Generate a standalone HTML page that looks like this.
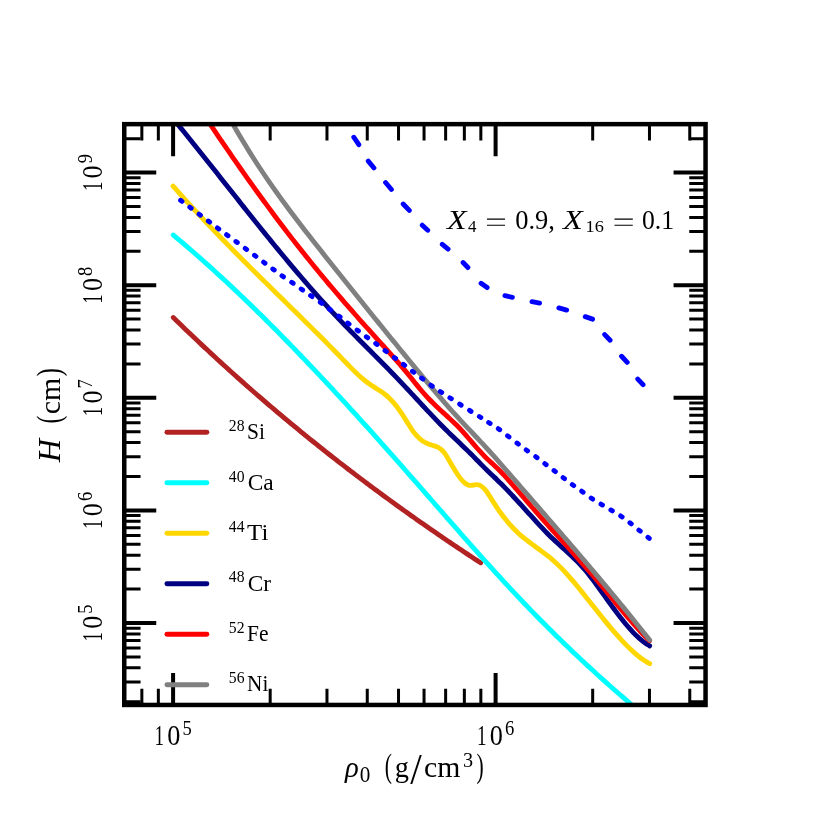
<!DOCTYPE html>
<html><head><meta charset="utf-8"><title>H vs rho0</title>
<style>html,body{margin:0;padding:0;background:#fff;}body{width:830px;height:830px;overflow:hidden;font-family:"Liberation Serif",serif;}svg{display:block;will-change:transform;}text{font-family:"Liberation Serif",serif;fill:#000;}</style></head>
<body>
<svg width="830" height="830" viewBox="0 0 830 830">
<defs><clipPath id="ax"><rect x="124.25" y="124.15" width="581.30" height="580.80"/></clipPath></defs>
<rect width="830" height="830" fill="#fff"/>
<g stroke="#000" fill="none" stroke-linecap="butt">
<path stroke-width="4.0" d="M173.10,124.15 v32.00 M173.10,704.95 v-32.00"/>
<path stroke-width="4.0" d="M495.60,124.15 v32.00 M495.60,704.95 v-32.00"/>
<path stroke-width="3.0" d="M141.85,124.15 v16.30 M141.85,704.95 v-16.30 M158.34,124.15 v16.30 M158.34,704.95 v-16.30 M270.18,124.15 v16.30 M270.18,704.95 v-16.30 M326.97,124.15 v16.30 M326.97,704.95 v-16.30 M367.26,124.15 v16.30 M367.26,704.95 v-16.30 M398.52,124.15 v16.30 M398.52,704.95 v-16.30 M424.05,124.15 v16.30 M424.05,704.95 v-16.30 M445.64,124.15 v16.30 M445.64,704.95 v-16.30 M464.35,124.15 v16.30 M464.35,704.95 v-16.30 M480.84,124.15 v16.30 M480.84,704.95 v-16.30 M592.68,124.15 v16.30 M592.68,704.95 v-16.30 M649.47,124.15 v16.30 M649.47,704.95 v-16.30 M689.76,124.15 v16.30 M689.76,704.95 v-16.30 "/>
<path stroke-width="4.0" d="M124.25,623.00 h32.00 M705.55,623.00 h-32.00"/>
<path stroke-width="4.0" d="M124.25,510.40 h32.00 M705.55,510.40 h-32.00"/>
<path stroke-width="4.0" d="M124.25,397.80 h32.00 M705.55,397.80 h-32.00"/>
<path stroke-width="4.0" d="M124.25,285.20 h32.00 M705.55,285.20 h-32.00"/>
<path stroke-width="4.0" d="M124.25,172.60 h32.00 M705.55,172.60 h-32.00"/>
<path stroke-width="3.0" d="M124.25,701.70 h16.30 M705.55,701.70 h-16.30 M124.25,681.88 h16.30 M705.55,681.88 h-16.30 M124.25,667.81 h16.30 M705.55,667.81 h-16.30 M124.25,656.90 h16.30 M705.55,656.90 h-16.30 M124.25,647.98 h16.30 M705.55,647.98 h-16.30 M124.25,640.44 h16.30 M705.55,640.44 h-16.30 M124.25,633.91 h16.30 M705.55,633.91 h-16.30 M124.25,628.15 h16.30 M705.55,628.15 h-16.30 M124.25,589.10 h16.30 M705.55,589.10 h-16.30 M124.25,569.28 h16.30 M705.55,569.28 h-16.30 M124.25,555.21 h16.30 M705.55,555.21 h-16.30 M124.25,544.30 h16.30 M705.55,544.30 h-16.30 M124.25,535.38 h16.30 M705.55,535.38 h-16.30 M124.25,527.84 h16.30 M705.55,527.84 h-16.30 M124.25,521.31 h16.30 M705.55,521.31 h-16.30 M124.25,515.55 h16.30 M705.55,515.55 h-16.30 M124.25,476.50 h16.30 M705.55,476.50 h-16.30 M124.25,456.68 h16.30 M705.55,456.68 h-16.30 M124.25,442.61 h16.30 M705.55,442.61 h-16.30 M124.25,431.70 h16.30 M705.55,431.70 h-16.30 M124.25,422.78 h16.30 M705.55,422.78 h-16.30 M124.25,415.24 h16.30 M705.55,415.24 h-16.30 M124.25,408.71 h16.30 M705.55,408.71 h-16.30 M124.25,402.95 h16.30 M705.55,402.95 h-16.30 M124.25,363.90 h16.30 M705.55,363.90 h-16.30 M124.25,344.08 h16.30 M705.55,344.08 h-16.30 M124.25,330.01 h16.30 M705.55,330.01 h-16.30 M124.25,319.10 h16.30 M705.55,319.10 h-16.30 M124.25,310.18 h16.30 M705.55,310.18 h-16.30 M124.25,302.64 h16.30 M705.55,302.64 h-16.30 M124.25,296.11 h16.30 M705.55,296.11 h-16.30 M124.25,290.35 h16.30 M705.55,290.35 h-16.30 M124.25,251.30 h16.30 M705.55,251.30 h-16.30 M124.25,231.48 h16.30 M705.55,231.48 h-16.30 M124.25,217.41 h16.30 M705.55,217.41 h-16.30 M124.25,206.50 h16.30 M705.55,206.50 h-16.30 M124.25,197.58 h16.30 M705.55,197.58 h-16.30 M124.25,190.04 h16.30 M705.55,190.04 h-16.30 M124.25,183.51 h16.30 M705.55,183.51 h-16.30 M124.25,177.75 h16.30 M705.55,177.75 h-16.30 M124.25,138.70 h16.30 M705.55,138.70 h-16.30 "/>
</g>
<g clip-path="url(#ax)" fill="none" stroke-width="4.86" stroke-linecap="round" stroke-linejoin="round">
<path stroke="#b22222" d="M173.30,317.52 C173.97,318.17 175.97,320.12 177.30,321.42 C178.63,322.72 179.97,324.01 181.30,325.30 C182.63,326.59 183.97,327.87 185.30,329.16 C186.63,330.44 187.97,331.72 189.30,332.99 C190.63,334.27 191.97,335.54 193.30,336.80 C194.63,338.07 195.97,339.34 197.30,340.60 C198.63,341.86 199.97,343.11 201.30,344.37 C202.63,345.62 203.97,346.87 205.30,348.11 C206.63,349.36 207.97,350.60 209.30,351.84 C210.63,353.08 211.97,354.32 213.30,355.55 C214.63,356.78 215.97,358.01 217.30,359.23 C218.63,360.46 219.97,361.68 221.30,362.90 C222.63,364.11 223.97,365.33 225.30,366.54 C226.63,367.75 227.97,368.96 229.30,370.16 C230.63,371.37 231.97,372.57 233.30,373.77 C234.63,374.96 235.97,376.16 237.30,377.35 C238.63,378.54 239.97,379.72 241.30,380.91 C242.63,382.09 243.97,383.27 245.30,384.45 C246.63,385.63 247.97,386.80 249.30,387.97 C250.63,389.14 251.97,390.31 253.30,391.48 C254.63,392.64 255.97,393.80 257.30,394.96 C258.63,396.12 259.97,397.27 261.30,398.42 C262.63,399.57 263.97,400.72 265.30,401.87 C266.63,403.01 267.97,404.15 269.30,405.29 C270.63,406.43 271.97,407.56 273.30,408.70 C274.63,409.83 275.97,410.96 277.30,412.08 C278.63,413.21 279.97,414.33 281.30,415.45 C282.63,416.57 283.97,417.69 285.30,418.80 C286.63,419.91 287.97,421.03 289.30,422.13 C290.63,423.24 291.97,424.34 293.30,425.45 C294.63,426.55 295.97,427.65 297.30,428.74 C298.63,429.84 299.97,430.93 301.30,432.02 C302.63,433.11 303.97,434.19 305.30,435.28 C306.63,436.36 307.97,437.44 309.30,438.52 C310.63,439.60 311.97,440.67 313.30,441.74 C314.63,442.82 315.97,443.88 317.30,444.95 C318.63,446.02 319.97,447.08 321.30,448.14 C322.63,449.20 323.97,450.26 325.30,451.31 C326.63,452.37 327.97,453.42 329.30,454.47 C330.63,455.52 331.97,456.56 333.30,457.61 C334.63,458.65 335.97,459.69 337.30,460.73 C338.63,461.77 339.97,462.80 341.30,463.83 C342.63,464.87 343.97,465.90 345.30,466.92 C346.63,467.95 347.97,468.97 349.30,470.00 C350.63,471.02 351.97,472.04 353.30,473.05 C354.63,474.07 355.97,475.08 357.30,476.09 C358.63,477.10 359.97,478.11 361.30,479.12 C362.63,480.12 363.97,481.13 365.30,482.13 C366.63,483.13 367.97,484.13 369.30,485.12 C370.63,486.12 371.97,487.11 373.30,488.10 C374.63,489.09 375.97,490.08 377.30,491.06 C378.63,492.05 379.97,493.03 381.30,494.01 C382.63,494.99 383.97,495.97 385.30,496.95 C386.63,497.92 387.97,498.89 389.30,499.86 C390.63,500.84 391.97,501.80 393.30,502.77 C394.63,503.73 395.97,504.70 397.30,505.66 C398.63,506.62 399.97,507.58 401.30,508.53 C402.63,509.49 403.97,510.44 405.30,511.39 C406.63,512.35 407.97,513.30 409.30,514.24 C410.63,515.19 411.97,516.13 413.30,517.08 C414.63,518.02 415.97,518.96 417.30,519.89 C418.63,520.83 419.97,521.77 421.30,522.70 C422.63,523.63 423.97,524.56 425.30,525.49 C426.63,526.42 427.97,527.35 429.30,528.27 C430.63,529.20 431.97,530.12 433.30,531.04 C434.63,531.96 435.97,532.88 437.30,533.79 C438.63,534.71 439.97,535.62 441.30,536.53 C442.63,537.44 443.97,538.35 445.30,539.26 C446.63,540.17 447.97,541.07 449.30,541.97 C450.63,542.88 451.97,543.78 453.30,544.68 C454.63,545.58 455.97,546.47 457.30,547.37 C458.63,548.26 459.97,549.15 461.30,550.04 C462.63,550.94 463.97,551.82 465.30,552.71 C466.63,553.60 467.97,554.48 469.30,555.36 C470.63,556.25 471.97,557.13 473.30,558.01 C474.63,558.89 476.08,559.84 477.30,560.64 C478.52,561.44 480.05,562.44 480.60,562.80"/>
<path stroke="#00ffff" d="M173.20,234.98 C173.87,235.54 175.87,237.20 177.20,238.32 C178.53,239.44 179.87,240.56 181.20,241.69 C182.53,242.82 183.87,243.95 185.20,245.09 C186.53,246.23 187.87,247.38 189.20,248.53 C190.53,249.68 191.87,250.84 193.20,252.00 C194.53,253.16 195.87,254.32 197.20,255.50 C198.53,256.67 199.87,257.84 201.20,259.02 C202.53,260.21 203.87,261.39 205.20,262.58 C206.53,263.77 207.87,264.97 209.20,266.17 C210.53,267.37 211.87,268.58 213.20,269.79 C214.53,271.00 215.87,272.22 217.20,273.44 C218.53,274.66 219.87,275.88 221.20,277.11 C222.53,278.34 223.87,279.58 225.20,280.82 C226.53,282.06 227.87,283.30 229.20,284.55 C230.53,285.80 231.87,287.05 233.20,288.31 C234.53,289.56 235.87,290.82 237.20,292.09 C238.53,293.36 239.87,294.63 241.20,295.90 C242.53,297.18 243.87,298.46 245.20,299.74 C246.53,301.02 247.87,302.31 249.20,303.60 C250.53,304.90 251.87,306.19 253.20,307.49 C254.53,308.79 255.87,310.10 257.20,311.41 C258.53,312.72 259.87,314.03 261.20,315.35 C262.53,316.66 263.87,317.98 265.20,319.31 C266.53,320.63 267.87,321.96 269.20,323.29 C270.53,324.63 271.87,325.96 273.20,327.30 C274.53,328.64 275.87,329.99 277.20,331.33 C278.53,332.68 279.87,334.03 281.20,335.39 C282.53,336.74 283.87,338.10 285.20,339.47 C286.53,340.83 287.87,342.19 289.20,343.56 C290.53,344.93 291.87,346.31 293.20,347.68 C294.53,349.06 295.87,350.44 297.20,351.82 C298.53,353.21 299.87,354.59 301.20,355.98 C302.53,357.37 303.87,358.77 305.20,360.16 C306.53,361.56 307.87,362.96 309.20,364.36 C310.53,365.77 311.87,367.17 313.20,368.58 C314.53,369.99 315.87,371.41 317.20,372.82 C318.53,374.24 319.87,375.66 321.20,377.08 C322.53,378.50 323.87,379.92 325.20,381.35 C326.53,382.78 327.87,384.21 329.20,385.64 C330.53,387.08 331.87,388.51 333.20,389.95 C334.53,391.39 335.87,392.83 337.20,394.28 C338.53,395.72 339.87,397.17 341.20,398.62 C342.53,400.07 343.87,401.52 345.20,402.98 C346.53,404.43 347.87,405.89 349.20,407.35 C350.53,408.81 351.87,410.28 353.20,411.74 C354.53,413.21 355.87,414.68 357.20,416.15 C358.53,417.62 359.87,419.09 361.20,420.56 C362.53,422.04 363.87,423.52 365.20,425.00 C366.53,426.47 367.87,427.96 369.20,429.44 C370.53,430.92 371.87,432.41 373.20,433.90 C374.53,435.39 375.87,436.88 377.20,438.37 C378.53,439.86 379.87,441.36 381.20,442.85 C382.53,444.35 383.87,445.85 385.20,447.35 C386.53,448.85 387.87,450.35 389.20,451.86 C390.53,453.36 391.87,454.87 393.20,456.37 C394.53,457.88 395.87,459.39 397.20,460.90 C398.53,462.41 399.87,463.93 401.20,465.44 C402.53,466.96 403.87,468.47 405.20,469.99 C406.53,471.51 407.87,473.03 409.20,474.55 C410.53,476.07 411.87,477.59 413.20,479.11 C414.53,480.64 415.87,482.16 417.20,483.69 C418.53,485.21 419.87,486.74 421.20,488.27 C422.53,489.79 423.87,491.32 425.20,492.85 C426.53,494.38 427.87,495.91 429.20,497.43 C430.53,498.96 431.87,500.49 433.20,502.02 C434.53,503.55 435.87,505.08 437.20,506.61 C438.53,508.13 439.87,509.66 441.20,511.19 C442.53,512.72 443.87,514.24 445.20,515.77 C446.53,517.30 447.87,518.82 449.20,520.35 C450.53,521.87 451.87,523.39 453.20,524.91 C454.53,526.43 455.87,527.96 457.20,529.47 C458.53,530.99 459.87,532.51 461.20,534.02 C462.53,535.54 463.87,537.05 465.20,538.56 C466.53,540.08 467.87,541.58 469.20,543.09 C470.53,544.60 471.87,546.10 473.20,547.60 C474.53,549.11 475.87,550.60 477.20,552.10 C478.53,553.60 479.87,555.09 481.20,556.58 C482.53,558.07 483.87,559.56 485.20,561.04 C486.53,562.53 487.87,564.01 489.20,565.48 C490.53,566.96 491.87,568.43 493.20,569.90 C494.53,571.37 495.87,572.84 497.20,574.30 C498.53,575.76 499.87,577.22 501.20,578.67 C502.53,580.12 503.87,581.57 505.20,583.02 C506.53,584.46 507.87,585.90 509.20,587.33 C510.53,588.77 511.87,590.20 513.20,591.62 C514.53,593.05 515.87,594.47 517.20,595.88 C518.53,597.29 519.87,598.70 521.20,600.11 C522.53,601.51 523.87,602.91 525.20,604.30 C526.53,605.69 527.87,607.08 529.20,608.46 C530.53,609.84 531.87,611.22 533.20,612.59 C534.53,613.96 535.87,615.32 537.20,616.68 C538.53,618.05 539.87,619.40 541.20,620.75 C542.53,622.10 543.87,623.44 545.20,624.78 C546.53,626.12 547.87,627.46 549.20,628.79 C550.53,630.11 551.87,631.44 553.20,632.76 C554.53,634.08 555.87,635.39 557.20,636.70 C558.53,638.01 559.87,639.31 561.20,640.61 C562.53,641.91 563.87,643.20 565.20,644.49 C566.53,645.78 567.87,647.06 569.20,648.34 C570.53,649.61 571.87,650.89 573.20,652.16 C574.53,653.42 575.87,654.69 577.20,655.95 C578.53,657.20 579.87,658.46 581.20,659.71 C582.53,660.95 583.87,662.20 585.20,663.44 C586.53,664.68 587.87,665.91 589.20,667.14 C590.53,668.37 591.87,669.59 593.20,670.81 C594.53,672.03 595.87,673.25 597.20,674.46 C598.53,675.67 599.87,676.87 601.20,678.08 C602.53,679.28 603.87,680.47 605.20,681.66 C606.53,682.86 607.87,684.04 609.20,685.22 C610.53,686.41 611.87,687.58 613.20,688.76 C614.53,689.93 615.87,691.10 617.20,692.26 C618.53,693.43 619.87,694.59 621.20,695.74 C622.53,696.90 623.87,698.05 625.20,699.19 C626.53,700.34 627.87,701.48 629.20,702.62 C630.53,703.76 631.87,704.89 633.20,706.02 C634.53,707.15 635.87,708.27 637.20,709.39 C638.53,710.51 639.87,711.62 641.20,712.74 C642.53,713.85 643.87,714.95 645.20,716.06 C646.53,717.16 648.40,718.69 649.20,719.35 C650.00,720.01 649.87,719.90 650.00,720.01"/>
<path stroke="#ffd700" d="M173.10,186.09 C173.77,186.84 175.77,189.12 177.10,190.62 C178.43,192.12 179.77,193.62 181.10,195.11 C182.43,196.60 183.77,198.08 185.10,199.56 C186.43,201.03 187.77,202.50 189.10,203.97 C190.43,205.43 191.77,206.88 193.10,208.33 C194.43,209.78 195.77,211.23 197.10,212.66 C198.43,214.10 199.77,215.53 201.10,216.96 C202.43,218.38 203.77,219.80 205.10,221.21 C206.43,222.63 207.77,224.04 209.10,225.44 C210.43,226.84 211.77,228.24 213.10,229.63 C214.43,231.03 215.77,232.42 217.10,233.80 C218.43,235.18 219.77,236.56 221.10,237.94 C222.43,239.31 223.77,240.68 225.10,242.05 C226.43,243.42 227.77,244.78 229.10,246.14 C230.43,247.50 231.77,248.85 233.10,250.20 C234.43,251.55 235.77,252.90 237.10,254.25 C238.43,255.59 239.77,256.93 241.10,258.27 C242.43,259.61 243.77,260.94 245.10,262.28 C246.43,263.61 247.77,264.94 249.10,266.27 C250.43,267.60 251.77,268.92 253.10,270.25 C254.43,271.57 255.77,272.89 257.10,274.21 C258.43,275.53 259.77,276.85 261.10,278.16 C262.43,279.48 263.77,280.80 265.10,282.11 C266.43,283.42 267.77,284.74 269.10,286.05 C270.43,287.36 271.77,288.67 273.10,289.98 C274.43,291.29 275.77,292.60 277.10,293.91 C278.43,295.22 279.77,296.52 281.10,297.83 C282.43,299.14 283.77,300.45 285.10,301.76 C286.43,303.07 287.77,304.37 289.10,305.68 C290.43,306.99 291.77,308.30 293.10,309.61 C294.43,310.92 295.77,312.23 297.10,313.54 C298.43,314.86 299.77,316.17 301.10,317.48 C302.43,318.80 303.77,320.11 305.10,321.43 C306.43,322.75 307.77,324.07 309.10,325.39 C310.43,326.71 311.77,328.03 313.10,329.36 C314.43,330.68 315.77,332.01 317.10,333.34 C318.43,334.67 319.77,336.00 321.10,337.33 C322.43,338.67 323.77,340.00 325.10,341.34 C326.43,342.68 327.77,344.03 329.10,345.37 C330.43,346.72 331.77,348.07 333.10,349.42 C334.43,350.78 335.77,352.13 337.10,353.49 C338.43,354.85 339.77,356.22 341.10,357.59 C342.43,358.96 343.77,360.33 345.10,361.71 C346.43,363.08 347.77,364.47 349.10,365.83 C350.43,367.19 351.77,368.56 353.10,369.88 C354.43,371.21 355.77,372.52 357.10,373.77 C358.43,375.03 359.77,376.26 361.10,377.42 C362.43,378.58 363.77,379.69 365.10,380.73 C366.43,381.78 367.77,382.75 369.10,383.69 C370.43,384.64 371.77,385.52 373.10,386.40 C374.43,387.27 375.77,388.10 377.10,388.96 C378.43,389.83 379.77,390.66 381.10,391.59 C382.43,392.51 383.77,393.44 385.10,394.49 C386.43,395.54 387.77,396.64 389.10,397.90 C390.43,399.16 391.77,400.52 393.10,402.04 C394.43,403.56 395.77,405.25 397.10,407.03 C398.43,408.81 399.77,410.74 401.10,412.71 C402.43,414.69 403.77,416.77 405.10,418.86 C406.43,420.95 407.77,423.16 409.10,425.24 C410.43,427.32 411.77,429.53 413.10,431.35 C414.43,433.18 415.77,434.78 417.10,436.20 C418.43,437.61 419.77,438.79 421.10,439.84 C422.43,440.88 423.77,441.72 425.10,442.46 C426.43,443.19 427.77,443.75 429.10,444.26 C430.43,444.77 431.77,445.06 433.10,445.50 C434.43,445.94 435.77,446.24 437.10,446.89 C438.43,447.53 439.77,448.20 441.10,449.36 C442.43,450.52 443.77,452.01 445.10,453.86 C446.43,455.70 447.77,458.20 449.10,460.45 C450.43,462.69 451.77,465.13 453.10,467.35 C454.43,469.57 455.77,471.79 457.10,473.77 C458.43,475.74 459.77,477.64 461.10,479.21 C462.43,480.79 463.77,482.20 465.10,483.21 C466.43,484.22 467.77,484.94 469.10,485.27 C470.43,485.59 471.77,485.25 473.10,485.15 C474.43,485.04 475.77,484.48 477.10,484.61 C478.43,484.75 479.77,485.12 481.10,485.95 C482.43,486.78 483.77,488.02 485.10,489.57 C486.43,491.12 487.77,493.22 489.10,495.24 C490.43,497.25 491.77,499.58 493.10,501.67 C494.43,503.77 495.77,505.83 497.10,507.80 C498.43,509.78 499.77,511.68 501.10,513.52 C502.43,515.35 503.77,517.11 505.10,518.80 C506.43,520.49 507.77,522.10 509.10,523.63 C510.43,525.17 511.77,526.62 513.10,528.01 C514.43,529.39 515.77,530.70 517.10,531.96 C518.43,533.22 519.77,534.41 521.10,535.57 C522.43,536.72 523.77,537.82 525.10,538.90 C526.43,539.97 527.77,541.00 529.10,542.02 C530.43,543.04 531.77,544.02 533.10,545.00 C534.43,545.99 535.77,546.95 537.10,547.92 C538.43,548.89 539.77,549.85 541.10,550.84 C542.43,551.82 543.77,552.81 545.10,553.83 C546.43,554.85 547.77,555.88 549.10,556.96 C550.43,558.03 551.77,559.14 553.10,560.30 C554.43,561.46 555.77,562.66 557.10,563.92 C558.43,565.18 559.77,566.50 561.10,567.85 C562.43,569.21 563.77,570.62 565.10,572.07 C566.43,573.51 567.77,575.01 569.10,576.52 C570.43,578.04 571.77,579.60 573.10,581.18 C574.43,582.75 575.77,584.36 577.10,585.98 C578.43,587.60 579.77,589.25 581.10,590.90 C582.43,592.55 583.77,594.22 585.10,595.90 C586.43,597.57 587.77,599.26 589.10,600.94 C590.43,602.62 591.77,604.32 593.10,606.00 C594.43,607.69 595.77,609.38 597.10,611.06 C598.43,612.74 599.77,614.41 601.10,616.07 C602.43,617.74 603.77,619.39 605.10,621.03 C606.43,622.66 607.77,624.29 609.10,625.89 C610.43,627.49 611.77,629.08 613.10,630.63 C614.43,632.19 615.77,633.73 617.10,635.23 C618.43,636.73 619.77,638.21 621.10,639.65 C622.43,641.09 623.77,642.51 625.10,643.87 C626.43,645.24 627.77,646.58 629.10,647.87 C630.43,649.15 631.77,650.40 633.10,651.60 C634.43,652.80 635.77,653.95 637.10,655.05 C638.43,656.14 639.77,657.19 641.10,658.18 C642.43,659.17 643.68,660.06 645.10,660.98 C646.52,661.89 648.85,663.23 649.60,663.68"/>
<path stroke="#000080" d="M173.10,118.56 C173.77,119.37 175.77,121.81 177.10,123.44 C178.43,125.08 179.77,126.71 181.10,128.35 C182.43,130.00 183.77,131.64 185.10,133.29 C186.43,134.94 187.77,136.59 189.10,138.24 C190.43,139.90 191.77,141.56 193.10,143.22 C194.43,144.88 195.77,146.54 197.10,148.21 C198.43,149.88 199.77,151.55 201.10,153.22 C202.43,154.89 203.77,156.56 205.10,158.24 C206.43,159.91 207.77,161.59 209.10,163.27 C210.43,164.95 211.77,166.63 213.10,168.31 C214.43,169.99 215.77,171.67 217.10,173.35 C218.43,175.04 219.77,176.72 221.10,178.40 C222.43,180.09 223.77,181.77 225.10,183.46 C226.43,185.14 227.77,186.83 229.10,188.51 C230.43,190.19 231.77,191.88 233.10,193.56 C234.43,195.24 235.77,196.92 237.10,198.61 C238.43,200.29 239.77,201.97 241.10,203.65 C242.43,205.32 243.77,207.00 245.10,208.68 C246.43,210.35 247.77,212.03 249.10,213.70 C250.43,215.37 251.77,217.04 253.10,218.71 C254.43,220.37 255.77,222.04 257.10,223.70 C258.43,225.36 259.77,227.02 261.10,228.67 C262.43,230.33 263.77,231.98 265.10,233.63 C266.43,235.28 267.77,236.93 269.10,238.57 C270.43,240.21 271.77,241.85 273.10,243.48 C274.43,245.11 275.77,246.74 277.10,248.37 C278.43,249.99 279.77,251.61 281.10,253.22 C282.43,254.84 283.77,256.45 285.10,258.05 C286.43,259.66 287.77,261.26 289.10,262.85 C290.43,264.44 291.77,266.03 293.10,267.61 C294.43,269.19 295.77,270.77 297.10,272.34 C298.43,273.91 299.77,275.47 301.10,277.03 C302.43,278.58 303.77,280.13 305.10,281.67 C306.43,283.22 307.77,284.75 309.10,286.28 C310.43,287.81 311.77,289.33 313.10,290.84 C314.43,292.35 315.77,293.85 317.10,295.35 C318.43,296.85 319.77,298.34 321.10,299.81 C322.43,301.29 323.77,302.77 325.10,304.23 C326.43,305.69 327.77,307.14 329.10,308.59 C330.43,310.03 331.77,311.46 333.10,312.89 C334.43,314.31 335.77,315.73 337.10,317.14 C338.43,318.54 339.77,319.94 341.10,321.33 C342.43,322.72 343.77,324.10 345.10,325.48 C346.43,326.85 347.77,328.22 349.10,329.58 C350.43,330.94 351.77,332.30 353.10,333.65 C354.43,335.01 355.77,336.35 357.10,337.70 C358.43,339.05 359.77,340.39 361.10,341.73 C362.43,343.07 363.77,344.40 365.10,345.74 C366.43,347.07 367.77,348.41 369.10,349.74 C370.43,351.08 371.77,352.41 373.10,353.75 C374.43,355.09 375.77,356.42 377.10,357.76 C378.43,359.10 379.77,360.44 381.10,361.79 C382.43,363.13 383.77,364.48 385.10,365.83 C386.43,367.18 387.77,368.54 389.10,369.90 C390.43,371.27 391.77,372.63 393.10,374.01 C394.43,375.38 395.77,376.76 397.10,378.15 C398.43,379.54 399.77,380.94 401.10,382.34 C402.43,383.75 403.77,385.16 405.10,386.59 C406.43,388.01 407.77,389.44 409.10,390.87 C410.43,392.30 411.77,393.74 413.10,395.18 C414.43,396.62 415.77,398.07 417.10,399.51 C418.43,400.95 419.77,402.39 421.10,403.83 C422.43,405.27 423.77,406.71 425.10,408.14 C426.43,409.57 427.77,411.00 429.10,412.42 C430.43,413.84 431.77,415.26 433.10,416.66 C434.43,418.06 435.77,419.46 437.10,420.84 C438.43,422.22 439.77,423.59 441.10,424.94 C442.43,426.30 443.77,427.64 445.10,428.96 C446.43,430.29 447.77,431.59 449.10,432.89 C450.43,434.19 451.77,435.47 453.10,436.76 C454.43,438.04 455.77,439.31 457.10,440.59 C458.43,441.86 459.77,443.13 461.10,444.41 C462.43,445.69 463.77,446.97 465.10,448.26 C466.43,449.55 467.77,450.85 469.10,452.16 C470.43,453.48 471.77,454.80 473.10,456.15 C474.43,457.49 475.77,458.86 477.10,460.23 C478.43,461.59 479.77,462.98 481.10,464.33 C482.43,465.68 483.77,467.03 485.10,468.35 C486.43,469.67 487.77,470.96 489.10,472.24 C490.43,473.52 491.77,474.78 493.10,476.06 C494.43,477.33 495.77,478.59 497.10,479.89 C498.43,481.18 499.77,482.48 501.10,483.81 C502.43,485.13 503.77,486.48 505.10,487.85 C506.43,489.22 507.77,490.60 509.10,492.00 C510.43,493.40 511.77,494.81 513.10,496.24 C514.43,497.66 515.77,499.10 517.10,500.55 C518.43,502.00 519.77,503.46 521.10,504.92 C522.43,506.39 523.77,507.86 525.10,509.33 C526.43,510.81 527.77,512.29 529.10,513.76 C530.43,515.24 531.77,516.72 533.10,518.19 C534.43,519.65 535.77,521.12 537.10,522.57 C538.43,524.02 539.77,525.46 541.10,526.88 C542.43,528.30 543.77,529.71 545.10,531.09 C546.43,532.47 547.77,533.83 549.10,535.17 C550.43,536.50 551.77,537.81 553.10,539.08 C554.43,540.36 555.77,541.59 557.10,542.82 C558.43,544.04 559.77,545.23 561.10,546.43 C562.43,547.63 563.77,548.82 565.10,550.02 C566.43,551.22 567.77,552.42 569.10,553.65 C570.43,554.88 571.77,556.13 573.10,557.41 C574.43,558.70 575.77,560.00 577.10,561.36 C578.43,562.71 579.77,564.10 581.10,565.55 C582.43,566.99 583.77,568.48 585.10,570.03 C586.43,571.59 587.77,573.20 589.10,574.87 C590.43,576.55 591.77,578.30 593.10,580.08 C594.43,581.86 595.77,583.69 597.10,585.53 C598.43,587.36 599.77,589.23 601.10,591.08 C602.43,592.94 603.77,594.81 605.10,596.67 C606.43,598.53 607.77,600.39 609.10,602.23 C610.43,604.07 611.77,605.91 613.10,607.72 C614.43,609.53 615.77,611.33 617.10,613.09 C618.43,614.85 619.77,616.59 621.10,618.28 C622.43,619.98 623.77,621.64 625.10,623.25 C626.43,624.86 627.77,626.44 629.10,627.95 C630.43,629.46 631.77,630.93 633.10,632.32 C634.43,633.72 635.77,635.06 637.10,636.32 C638.43,637.59 639.77,638.79 641.10,639.90 C642.43,641.01 643.68,642.01 645.10,643.00 C646.52,643.99 648.85,645.38 649.60,645.86"/>
<path stroke="#ff0000" d="M200.50,109.70 C201.17,110.70 203.17,113.73 204.50,115.73 C205.83,117.74 207.17,119.74 208.50,121.73 C209.83,123.73 211.17,125.72 212.50,127.70 C213.83,129.69 215.17,131.67 216.50,133.64 C217.83,135.61 219.17,137.58 220.50,139.54 C221.83,141.50 223.17,143.46 224.50,145.41 C225.83,147.36 227.17,149.30 228.50,151.24 C229.83,153.17 231.17,155.11 232.50,157.03 C233.83,158.96 235.17,160.87 236.50,162.79 C237.83,164.70 239.17,166.61 240.50,168.51 C241.83,170.41 243.17,172.30 244.50,174.19 C245.83,176.07 247.17,177.96 248.50,179.83 C249.83,181.70 251.17,183.57 252.50,185.43 C253.83,187.29 255.17,189.15 256.50,190.99 C257.83,192.84 259.17,194.68 260.50,196.51 C261.83,198.35 263.17,200.17 264.50,201.99 C265.83,203.81 267.17,205.63 268.50,207.43 C269.83,209.24 271.17,211.03 272.50,212.82 C273.83,214.61 275.17,216.40 276.50,218.17 C277.83,219.95 279.17,221.72 280.50,223.48 C281.83,225.24 283.17,226.99 284.50,228.74 C285.83,230.49 287.17,232.22 288.50,233.96 C289.83,235.69 291.17,237.41 292.50,239.12 C293.83,240.84 295.17,242.55 296.50,244.25 C297.83,245.95 299.17,247.64 300.50,249.32 C301.83,251.00 303.17,252.68 304.50,254.35 C305.83,256.01 307.17,257.67 308.50,259.32 C309.83,260.98 311.17,262.62 312.50,264.26 C313.83,265.89 315.17,267.52 316.50,269.15 C317.83,270.77 319.17,272.39 320.50,273.99 C321.83,275.60 323.17,277.21 324.50,278.80 C325.83,280.40 327.17,281.99 328.50,283.57 C329.83,285.15 331.17,286.73 332.50,288.30 C333.83,289.87 335.17,291.44 336.50,293.00 C337.83,294.56 339.17,296.11 340.50,297.66 C341.83,299.21 343.17,300.75 344.50,302.29 C345.83,303.83 347.17,305.36 348.50,306.89 C349.83,308.42 351.17,309.94 352.50,311.46 C353.83,312.98 355.17,314.49 356.50,316.01 C357.83,317.52 359.17,319.02 360.50,320.52 C361.83,322.03 363.17,323.52 364.50,325.02 C365.83,326.51 367.17,328.00 368.50,329.49 C369.83,330.98 371.17,332.46 372.50,333.94 C373.83,335.42 375.17,336.90 376.50,338.38 C377.83,339.85 379.17,341.32 380.50,342.79 C381.83,344.26 383.17,345.73 384.50,347.20 C385.83,348.67 387.17,350.14 388.50,351.61 C389.83,353.09 391.17,354.57 392.50,356.07 C393.83,357.56 395.17,359.06 396.50,360.57 C397.83,362.09 399.17,363.62 400.50,365.16 C401.83,366.71 403.17,368.27 404.50,369.86 C405.83,371.44 407.17,373.05 408.50,374.68 C409.83,376.31 411.17,377.98 412.50,379.64 C413.83,381.29 415.17,382.98 416.50,384.62 C417.83,386.27 419.17,387.92 420.50,389.51 C421.83,391.10 423.17,392.66 424.50,394.15 C425.83,395.65 427.17,397.09 428.50,398.49 C429.83,399.89 431.17,401.24 432.50,402.56 C433.83,403.89 435.17,405.17 436.50,406.43 C437.83,407.70 439.17,408.94 440.50,410.17 C441.83,411.40 443.17,412.60 444.50,413.81 C445.83,415.03 447.17,416.22 448.50,417.45 C449.83,418.67 451.17,419.89 452.50,421.16 C453.83,422.42 455.17,423.70 456.50,425.04 C457.83,426.38 459.17,427.76 460.50,429.19 C461.83,430.61 463.17,432.11 464.50,433.61 C465.83,435.11 467.17,436.66 468.50,438.21 C469.83,439.75 471.17,441.33 472.50,442.87 C473.83,444.42 475.17,445.98 476.50,447.50 C477.83,449.01 479.17,450.52 480.50,451.96 C481.83,453.41 483.17,454.82 484.50,456.17 C485.83,457.52 487.17,458.79 488.50,460.06 C489.83,461.33 491.17,462.53 492.50,463.77 C493.83,465.01 495.17,466.22 496.50,467.50 C497.83,468.78 499.17,470.08 500.50,471.44 C501.83,472.80 503.17,474.22 504.50,475.66 C505.83,477.10 507.17,478.59 508.50,480.09 C509.83,481.59 511.17,483.12 512.50,484.65 C513.83,486.18 515.17,487.72 516.50,489.26 C517.83,490.80 519.17,492.34 520.50,493.89 C521.83,495.43 523.17,496.98 524.50,498.52 C525.83,500.06 527.17,501.61 528.50,503.15 C529.83,504.69 531.17,506.23 532.50,507.76 C533.83,509.29 535.17,510.82 536.50,512.34 C537.83,513.86 539.17,515.38 540.50,516.88 C541.83,518.39 543.17,519.89 544.50,521.38 C545.83,522.88 547.17,524.36 548.50,525.85 C549.83,527.33 551.17,528.81 552.50,530.28 C553.83,531.76 555.17,533.23 556.50,534.70 C557.83,536.17 559.17,537.64 560.50,539.11 C561.83,540.58 563.17,542.04 564.50,543.51 C565.83,544.98 567.17,546.45 568.50,547.92 C569.83,549.40 571.17,550.87 572.50,552.35 C573.83,553.83 575.17,555.31 576.50,556.80 C577.83,558.29 579.17,559.78 580.50,561.28 C581.83,562.78 583.17,564.29 584.50,565.81 C585.83,567.32 587.17,568.84 588.50,570.38 C589.83,571.91 591.17,573.45 592.50,575.01 C593.83,576.56 595.17,578.12 596.50,579.70 C597.83,581.27 599.17,582.86 600.50,584.46 C601.83,586.06 603.17,587.67 604.50,589.28 C605.83,590.89 607.17,592.51 608.50,594.13 C609.83,595.75 611.17,597.38 612.50,599.00 C613.83,600.62 615.17,602.24 616.50,603.85 C617.83,605.46 619.17,607.07 620.50,608.67 C621.83,610.27 623.17,611.86 624.50,613.44 C625.83,615.02 627.17,616.59 628.50,618.14 C629.83,619.68 631.17,621.22 632.50,622.73 C633.83,624.25 635.17,625.74 636.50,627.21 C637.83,628.68 639.17,630.13 640.50,631.55 C641.83,632.97 643.17,634.37 644.50,635.73 C645.83,637.09 647.65,638.88 648.50,639.72 C649.35,640.57 649.42,640.61 649.60,640.79"/>
<path stroke="#808080" d="M225.00,109.73 C225.67,110.95 227.67,114.64 229.00,117.06 C230.33,119.47 231.67,121.85 233.00,124.20 C234.33,126.55 235.67,128.88 237.00,131.17 C238.33,133.47 239.67,135.73 241.00,137.98 C242.33,140.22 243.67,142.43 245.00,144.62 C246.33,146.81 247.67,148.98 249.00,151.12 C250.33,153.26 251.67,155.38 253.00,157.47 C254.33,159.57 255.67,161.64 257.00,163.69 C258.33,165.74 259.67,167.77 261.00,169.78 C262.33,171.79 263.67,173.78 265.00,175.75 C266.33,177.72 267.67,179.67 269.00,181.60 C270.33,183.54 271.67,185.45 273.00,187.35 C274.33,189.25 275.67,191.14 277.00,193.01 C278.33,194.87 279.67,196.73 281.00,198.57 C282.33,200.41 283.67,202.23 285.00,204.04 C286.33,205.86 287.67,207.66 289.00,209.45 C290.33,211.24 291.67,213.01 293.00,214.78 C294.33,216.55 295.67,218.31 297.00,220.05 C298.33,221.80 299.67,223.54 301.00,225.28 C302.33,227.01 303.67,228.73 305.00,230.45 C306.33,232.17 307.67,233.88 309.00,235.59 C310.33,237.29 311.67,239.00 313.00,240.69 C314.33,242.39 315.67,244.09 317.00,245.78 C318.33,247.47 319.67,249.16 321.00,250.85 C322.33,252.53 323.67,254.22 325.00,255.90 C326.33,257.59 327.67,259.27 329.00,260.95 C330.33,262.63 331.67,264.31 333.00,265.99 C334.33,267.67 335.67,269.35 337.00,271.03 C338.33,272.70 339.67,274.38 341.00,276.05 C342.33,277.72 343.67,279.39 345.00,281.06 C346.33,282.73 347.67,284.40 349.00,286.07 C350.33,287.74 351.67,289.40 353.00,291.07 C354.33,292.73 355.67,294.40 357.00,296.06 C358.33,297.72 359.67,299.38 361.00,301.04 C362.33,302.70 363.67,304.36 365.00,306.01 C366.33,307.67 367.67,309.33 369.00,310.98 C370.33,312.64 371.67,314.29 373.00,315.94 C374.33,317.59 375.67,319.24 377.00,320.89 C378.33,322.54 379.67,324.19 381.00,325.84 C382.33,327.48 383.67,329.13 385.00,330.78 C386.33,332.42 387.67,334.06 389.00,335.71 C390.33,337.35 391.67,338.99 393.00,340.63 C394.33,342.27 395.67,343.91 397.00,345.55 C398.33,347.18 399.67,348.82 401.00,350.46 C402.33,352.09 403.67,353.73 405.00,355.36 C406.33,356.99 407.67,358.62 409.00,360.25 C410.33,361.88 411.67,363.51 413.00,365.13 C414.33,366.75 415.67,368.37 417.00,369.99 C418.33,371.60 419.67,373.21 421.00,374.82 C422.33,376.42 423.67,378.03 425.00,379.62 C426.33,381.22 427.67,382.81 429.00,384.39 C430.33,385.98 431.67,387.55 433.00,389.12 C434.33,390.69 435.67,392.26 437.00,393.81 C438.33,395.37 439.67,396.91 441.00,398.45 C442.33,399.99 443.67,401.52 445.00,403.04 C446.33,404.56 447.67,406.08 449.00,407.58 C450.33,409.08 451.67,410.57 453.00,412.05 C454.33,413.53 455.67,415.00 457.00,416.45 C458.33,417.91 459.67,419.36 461.00,420.79 C462.33,422.23 463.67,423.65 465.00,425.07 C466.33,426.49 467.67,427.90 469.00,429.31 C470.33,430.72 471.67,432.13 473.00,433.54 C474.33,434.95 475.67,436.35 477.00,437.77 C478.33,439.19 479.67,440.61 481.00,442.04 C482.33,443.47 483.67,444.90 485.00,446.36 C486.33,447.81 487.67,449.27 489.00,450.75 C490.33,452.22 491.67,453.71 493.00,455.20 C494.33,456.69 495.67,458.19 497.00,459.70 C498.33,461.21 499.67,462.73 501.00,464.25 C502.33,465.77 503.67,467.30 505.00,468.82 C506.33,470.35 507.67,471.89 509.00,473.42 C510.33,474.95 511.67,476.49 513.00,478.03 C514.33,479.56 515.67,481.10 517.00,482.64 C518.33,484.17 519.67,485.71 521.00,487.24 C522.33,488.78 523.67,490.31 525.00,491.85 C526.33,493.38 527.67,494.92 529.00,496.45 C530.33,497.99 531.67,499.53 533.00,501.06 C534.33,502.60 535.67,504.13 537.00,505.67 C538.33,507.21 539.67,508.74 541.00,510.28 C542.33,511.82 543.67,513.36 545.00,514.90 C546.33,516.44 547.67,517.98 549.00,519.52 C550.33,521.06 551.67,522.60 553.00,524.14 C554.33,525.68 555.67,527.22 557.00,528.77 C558.33,530.31 559.67,531.85 561.00,533.40 C562.33,534.95 563.67,536.49 565.00,538.04 C566.33,539.59 567.67,541.14 569.00,542.69 C570.33,544.24 571.67,545.80 573.00,547.35 C574.33,548.91 575.67,550.46 577.00,552.02 C578.33,553.58 579.67,555.14 581.00,556.71 C582.33,558.27 583.67,559.83 585.00,561.40 C586.33,562.97 587.67,564.54 589.00,566.11 C590.33,567.69 591.67,569.26 593.00,570.84 C594.33,572.42 595.67,574.00 597.00,575.58 C598.33,577.17 599.67,578.75 601.00,580.34 C602.33,581.93 603.67,583.53 605.00,585.12 C606.33,586.72 607.67,588.32 609.00,589.92 C610.33,591.53 611.67,593.13 613.00,594.75 C614.33,596.36 615.67,597.97 617.00,599.59 C618.33,601.21 619.67,602.83 621.00,604.46 C622.33,606.09 623.67,607.72 625.00,609.35 C626.33,610.99 627.67,612.63 629.00,614.27 C630.33,615.92 631.67,617.57 633.00,619.22 C634.33,620.87 635.67,622.53 637.00,624.19 C638.33,625.86 639.67,627.53 641.00,629.20 C642.33,630.87 643.67,632.55 645.00,634.24 C646.33,635.92 648.23,638.33 649.00,639.30 C649.77,640.28 649.50,639.94 649.60,640.07"/>
<path stroke="#0000ff" d="M353.76,137.21 L358.84,144.69 M368.26,161.16 L373.94,167.94 M385.57,182.55 L391.43,189.45 M403.17,203.96 L409.33,210.44 M422.28,225.16 L427.72,230.24 M442.29,244.33 L448.11,249.07 M463.09,262.55 L467.91,267.55 M481.08,283.31 L487.12,287.59 M504.88,295.70 L512.42,297.30 M531.99,301.66 L539.61,303.14 M558.84,307.87 L566.66,310.13 M585.21,316.67 L592.59,319.13 M604.68,334.56 L610.12,340.24 M621.56,356.27 L627.24,362.33 M637.77,379.07 L643.03,384.63 "/>
<path stroke="#0000ff" d="M180.58,200.26 L182.02,201.34 M189.78,207.16 L191.22,208.24 M198.98,214.16 L200.42,215.24 M208.28,221.06 L209.72,222.14 M217.38,227.86 L218.82,228.94 M226.57,234.67 L228.03,235.73 M235.88,241.47 L237.32,242.53 M245.18,248.36 L246.62,249.44 M254.48,255.26 L255.92,256.34 M263.58,262.16 L265.02,263.24 M272.78,268.97 L274.22,270.03 M281.96,275.78 L283.44,276.82 M291.66,282.29 L293.14,283.31 M301.16,288.98 L302.64,290.02 M310.56,295.59 L312.04,296.61 M320.27,302.27 L321.73,303.33 M329.28,309.06 L330.72,310.14 M338.68,315.96 L340.12,317.04 M347.69,322.95 L349.11,324.05 M356.98,329.96 L358.42,331.04 M366.27,336.77 L367.73,337.83 M375.68,343.47 L377.12,344.53 M384.98,350.56 L386.42,351.64 M394.18,357.46 L395.62,358.54 M403.28,364.26 L404.72,365.34 M412.38,371.26 L413.82,372.34 M421.58,378.06 L423.02,379.14 M430.87,385.18 L432.33,386.22 M440.25,391.50 L441.75,392.50 M449.85,397.81 L451.35,398.79 M459.64,404.12 L461.16,405.08 M469.54,410.42 L471.06,411.38 M479.34,416.52 L480.86,417.48 M488.64,422.51 L490.16,423.49 M498.27,428.68 L499.73,429.72 M507.59,435.85 L509.01,436.95 M516.98,443.06 L518.42,444.14 M526.17,449.87 L527.63,450.93 M535.68,456.66 L537.12,457.74 M544.78,463.66 L546.22,464.74 M553.98,470.56 L555.42,471.64 M563.09,477.55 L564.51,478.65 M572.27,484.57 L573.73,485.63 M581.67,491.18 L583.13,492.22 M591.15,498.10 L592.65,499.10 M600.93,504.14 L602.47,505.06 M610.83,509.94 L612.37,510.86 M620.66,515.89 L622.14,516.91 M629.89,522.75 L631.31,523.85 M638.90,530.04 L640.30,531.16 M647.90,537.24 L649.30,538.36 "/>
</g>
<rect x="124.25" y="124.15" width="581.30" height="580.80" fill="none" stroke="#000" stroke-width="4.50" stroke-linejoin="miter"/>
<g stroke-width="4.86" stroke-linecap="round" fill="none">
<path stroke="#b22222" d="M166.90,432.20 H206.90"/>
<path stroke="#00ffff" d="M166.90,482.70 H206.90"/>
<path stroke="#ffd700" d="M166.90,533.20 H206.90"/>
<path stroke="#000080" d="M166.90,583.70 H206.90"/>
<path stroke="#ff0000" d="M166.90,634.20 H206.90"/>
<path stroke="#808080" d="M166.90,684.70 H206.90"/>
</g>
<g transform="translate(173.10,745.2)">
<text transform="translate(-18.50,0.00) scale(0.6333,1)" font-size="30.00">1</text>
<text transform="translate(-5.80,0.00) scale(0.8799,1)" font-size="29.78">0</text>
<text transform="translate(9.30,-10.51) scale(0.8899,1)" font-size="20.90">5</text>
</g>
<g transform="translate(495.60,745.2)">
<text transform="translate(-18.50,0.00) scale(0.6333,1)" font-size="30.00">1</text>
<text transform="translate(-5.80,0.00) scale(0.8799,1)" font-size="29.78">0</text>
<text transform="translate(9.30,-10.51) scale(0.8992,1)" font-size="20.68">6</text>
</g>
<g transform="translate(102.2,623.00) rotate(-90)">
<text transform="translate(-18.50,0.00) scale(0.6333,1)" font-size="30.00">1</text>
<text transform="translate(-5.80,0.00) scale(0.8799,1)" font-size="29.78">0</text>
<text transform="translate(9.30,-10.51) scale(0.8899,1)" font-size="20.90">5</text>
</g>
<g transform="translate(102.2,510.40) rotate(-90)">
<text transform="translate(-18.50,0.00) scale(0.6333,1)" font-size="30.00">1</text>
<text transform="translate(-5.80,0.00) scale(0.8799,1)" font-size="29.78">0</text>
<text transform="translate(9.30,-10.51) scale(0.8992,1)" font-size="20.68">6</text>
</g>
<g transform="translate(102.2,397.80) rotate(-90)">
<text transform="translate(-18.50,0.00) scale(0.6333,1)" font-size="30.00">1</text>
<text transform="translate(-5.80,0.00) scale(0.8799,1)" font-size="29.78">0</text>
<text transform="translate(9.30,-10.30) scale(0.8765,1)" font-size="21.22">7</text>
</g>
<g transform="translate(102.2,285.20) rotate(-90)">
<text transform="translate(-18.50,0.00) scale(0.6333,1)" font-size="30.00">1</text>
<text transform="translate(-5.80,0.00) scale(0.8799,1)" font-size="29.78">0</text>
<text transform="translate(9.30,-10.51) scale(0.9032,1)" font-size="20.59">8</text>
</g>
<g transform="translate(102.2,172.60) rotate(-90)">
<text transform="translate(-18.50,0.00) scale(0.6333,1)" font-size="30.00">1</text>
<text transform="translate(-5.80,0.00) scale(0.8799,1)" font-size="29.78">0</text>
<text transform="translate(9.30,-10.51) scale(0.8992,1)" font-size="20.68">9</text>
</g>
<text transform="translate(345.05,777.10) scale(0.9396,1)" font-size="30.50" font-style="italic">ρ</text>
<text transform="translate(359.80,781.88) scale(0.9604,1)" font-size="22.07">0</text>
<text transform="translate(384.80,777.38) scale(0.6472,1)" font-size="33.41">(</text>
<text transform="translate(394.70,777.39) scale(0.9872,1)" font-size="28.77">g</text>
<text transform="translate(410.20,784.05) scale(0.9133,1)" font-size="45.29">/</text>
<text transform="translate(424.00,776.71) scale(1.0134,1)" font-size="29.31">cm</text>
<text transform="translate(462.90,766.69) scale(0.9696,1)" font-size="20.83">3</text>
<text transform="translate(476.40,777.38) scale(0.6472,1)" font-size="33.41">)</text>
<g transform="translate(59.8,415.3) rotate(-90)">
<text transform="translate(-47.04,0.00) scale(1.0187,1)" font-size="31.76" font-style="italic">H</text>
<text transform="translate(-8.20,0.11) scale(0.6943,1)" font-size="33.74">(</text>
<text transform="translate(1.00,-0.00) scale(0.9881,1)" font-size="30.15">cm</text>
<text transform="translate(39.00,0.11) scale(0.7210,1)" font-size="33.74">)</text>
</g>
<text transform="translate(446.89,228.50) scale(1.1911,1)" font-size="26.87" font-style="italic">X</text>
<text transform="translate(467.90,232.40) scale(1.0553,1)" font-size="16.11">4</text>
<path stroke="#000" stroke-width="1.15" d="M487.00,219.1 H505.00 M487.00,225.2 H505.00"/>
<text transform="translate(515.20,229.49) scale(0.9466,1)" font-size="27.96">0.9,</text>
<text transform="translate(563.10,228.50) scale(1.2076,1)" font-size="26.87" font-style="italic">X</text>
<text transform="translate(585.60,232.44) scale(1.1387,1)" font-size="16.07">16</text>
<path stroke="#000" stroke-width="1.15" d="M614.50,219.1 H632.80 M614.50,225.2 H632.80"/>
<text transform="translate(641.90,228.82) scale(0.9528,1)" font-size="26.95">0.1</text>
<text transform="translate(228.80,431.24) scale(0.9998,1)" font-size="15.70">28</text>
<text transform="translate(247.10,439.30) scale(0.8943,1)" font-size="24.00">Si</text>
<text transform="translate(228.80,481.64) scale(0.9998,1)" font-size="15.70">40</text>
<text transform="translate(247.70,489.70) scale(0.9751,1)" font-size="24.00">Ca</text>
<text transform="translate(228.80,532.20) scale(0.9746,1)" font-size="16.11">44</text>
<text transform="translate(247.10,540.10) scale(1.0343,1)" font-size="24.00">Ti</text>
<text transform="translate(228.80,582.44) scale(0.9998,1)" font-size="15.70">48</text>
<text transform="translate(247.70,590.50) scale(0.9708,1)" font-size="24.00">Cr</text>
<text transform="translate(228.80,632.84) scale(0.9953,1)" font-size="15.77">52</text>
<text transform="translate(247.10,640.90) scale(0.8958,1)" font-size="24.00">Fe</text>
<text transform="translate(228.80,683.24) scale(0.9953,1)" font-size="15.77">56</text>
<text transform="translate(247.10,691.30) scale(0.8833,1)" font-size="24.00">Ni</text>
</svg>
</body></html>
